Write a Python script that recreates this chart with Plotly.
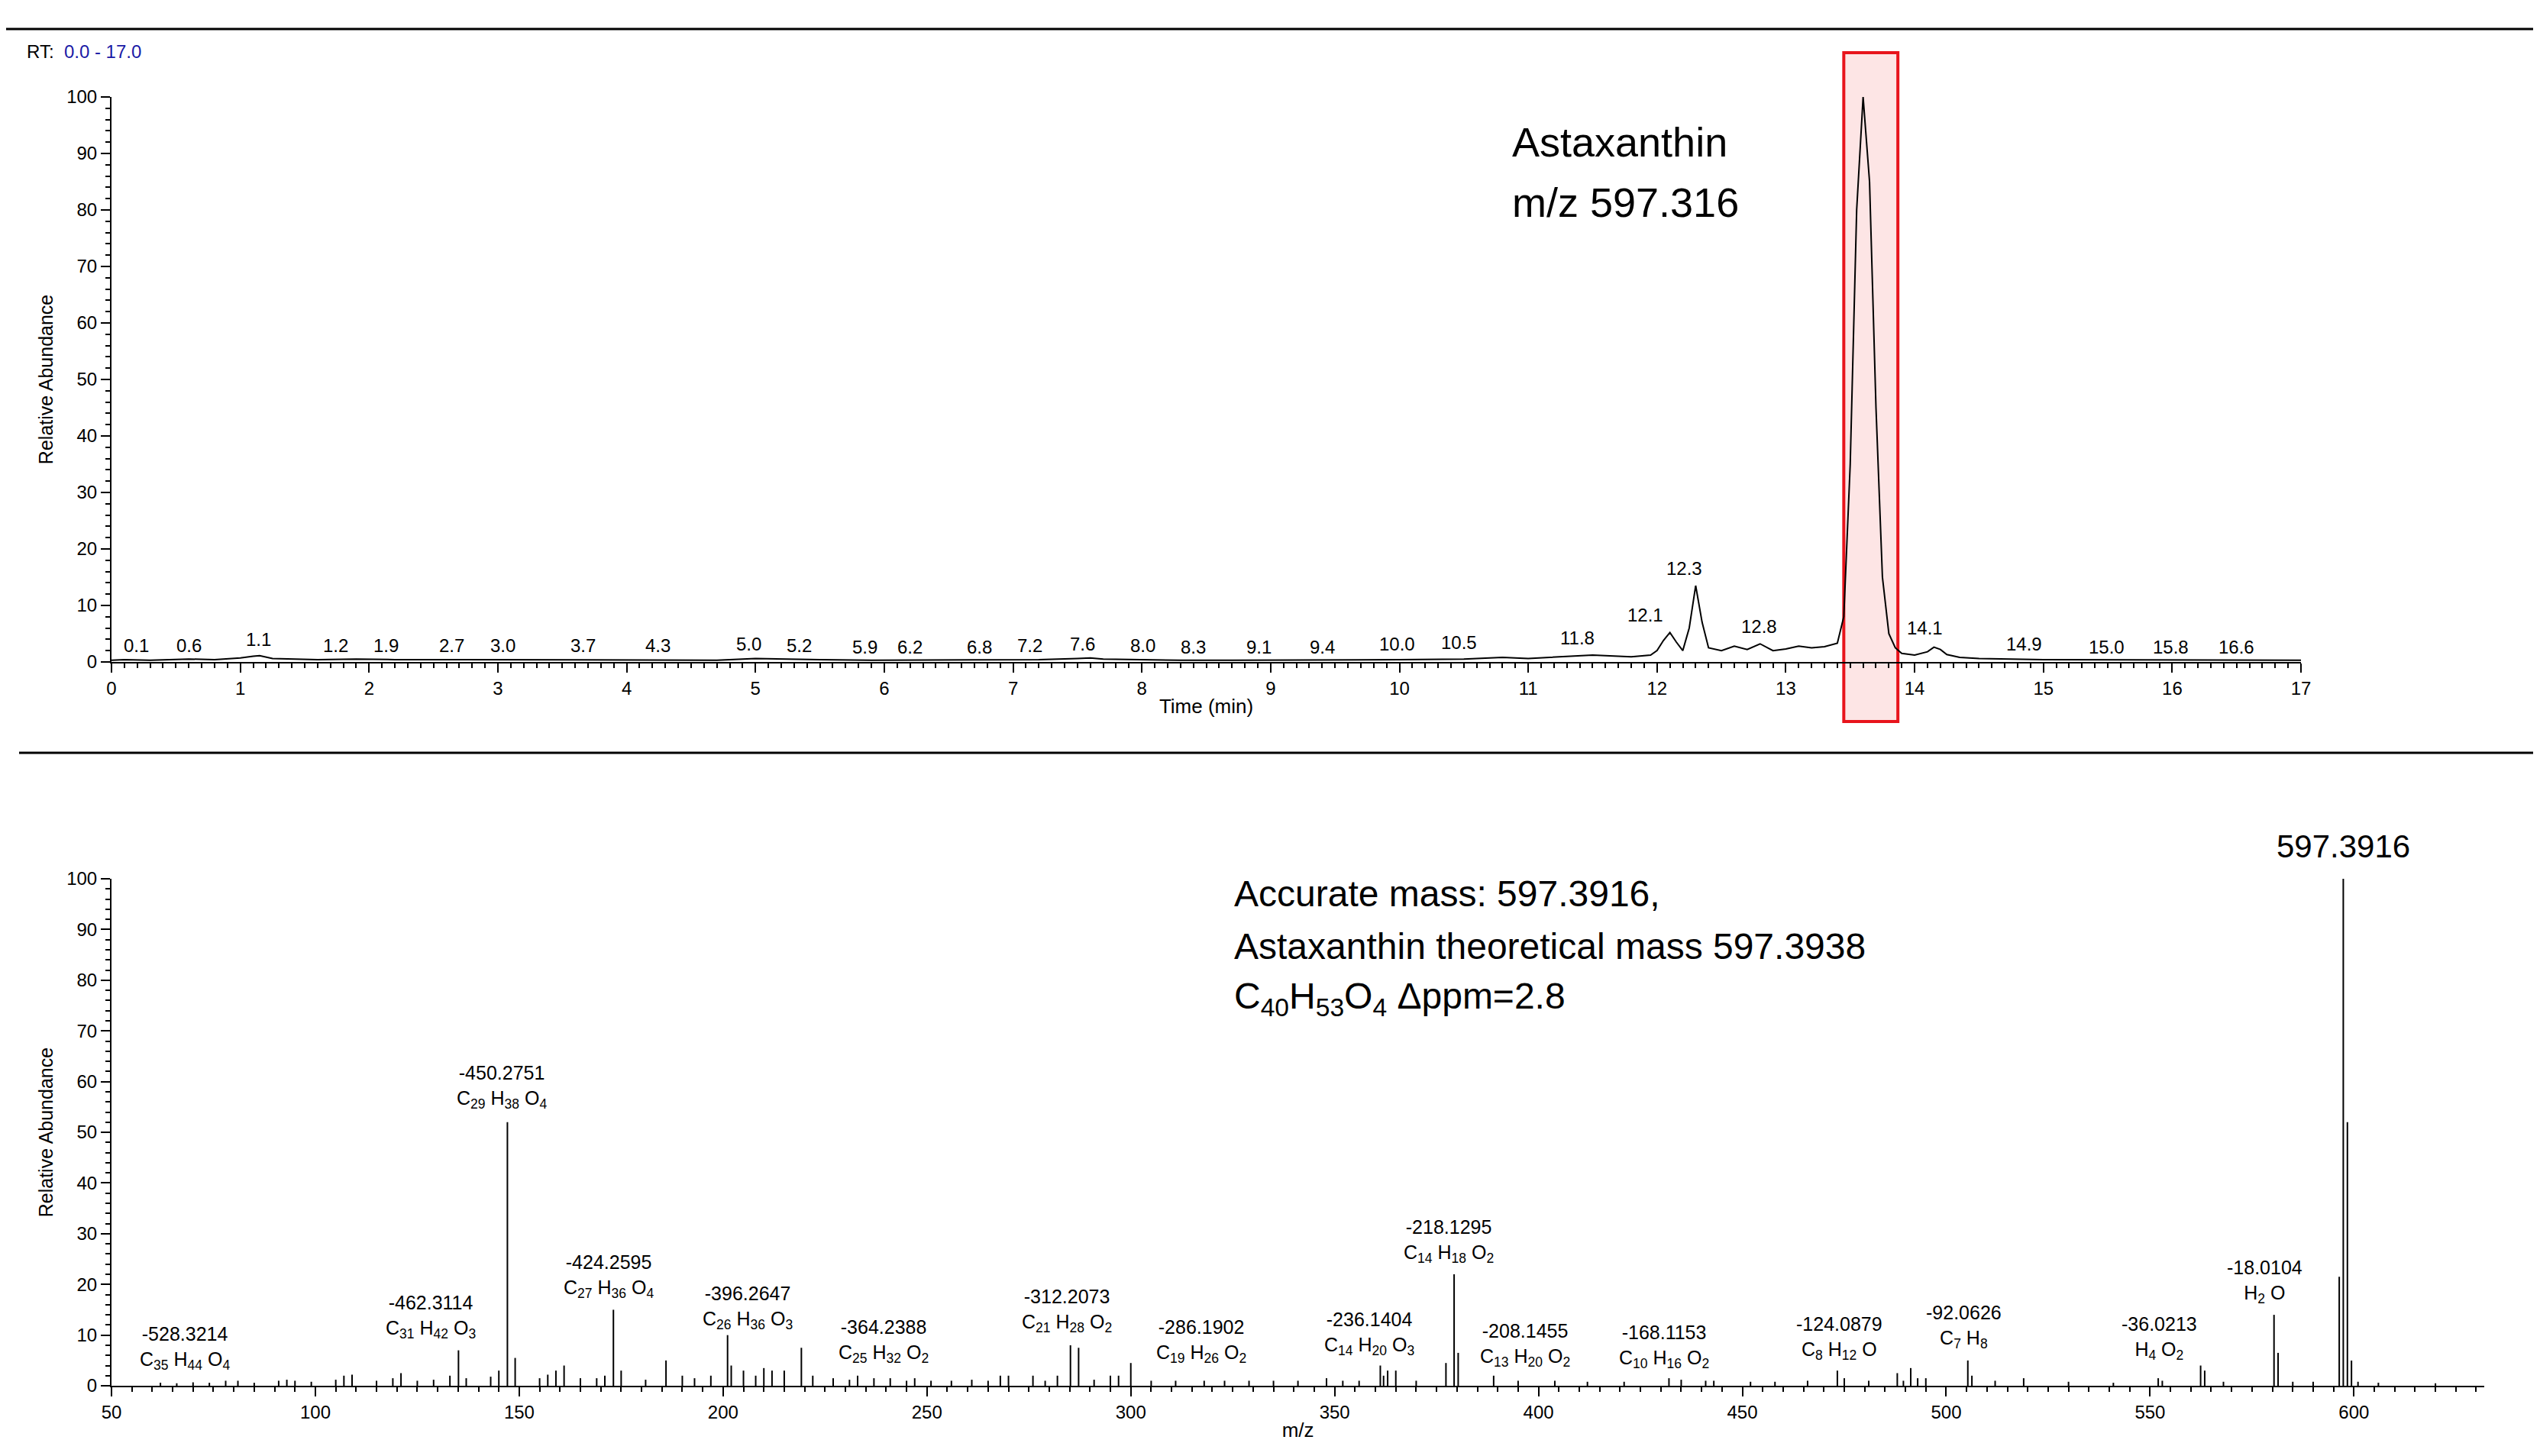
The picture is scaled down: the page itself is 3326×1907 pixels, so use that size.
import plotly.graph_objects as go

# ---- chromatogram data ----
rt_time = [0,0.1,0.3,0.5,0.6,0.8,1.0,1.1,1.15,1.25,1.4,1.6,1.9,2.2,2.7,3.0,3.4,3.7,4.0,4.3,4.7,5.0,5.2,5.5,5.9,6.2,6.5,6.8,7.2,7.5,7.6,7.7,8.0,8.3,8.7,9.1,9.4,9.8,10.0,10.5,10.8,11.0,11.3,11.5,11.8,11.95,12.0,12.05,12.1,12.15,12.2,12.25,12.3,12.35,12.4,12.5,12.6,12.7,12.8,12.85,12.9,13.0,13.1,13.2,13.3,13.4,13.45,13.5,13.55,13.6,13.65,13.7,13.75,13.8,13.85,13.9,14.0,14.1,14.15,14.2,14.25,14.35,14.5,15.0,15.5,16.0,16.5,17.0]
rt_int = [0.3,0.4,0.3,0.4,0.5,0.4,0.7,1.0,1.1,0.6,0.5,0.4,0.5,0.4,0.4,0.4,0.3,0.4,0.3,0.4,0.3,0.6,0.5,0.4,0.3,0.3,0.3,0.4,0.4,0.6,0.7,0.5,0.4,0.3,0.3,0.3,0.3,0.4,0.4,0.5,0.8,0.6,0.9,1.2,0.9,1.2,2.0,3.8,5.2,3.5,2.0,6.0,13.5,7.0,2.5,2.0,2.8,2.2,3.2,2.6,2.0,2.3,2.8,2.5,2.7,3.3,8.0,35.0,80.0,100.0,85.0,45.0,15.0,5.0,2.5,1.5,1.2,1.8,2.6,2.2,1.3,0.8,0.6,0.4,0.4,0.3,0.3,0.3]
rt_label_time = [0.19,0.6,1.14,1.74,2.13,2.64,3.04,3.66,4.24,4.95,5.34,5.85,6.2,6.74,7.13,7.54,8.01,8.4,8.91,9.4,9.98,10.46,11.38,11.91,12.21,12.79,13.57,14.08,14.85,15.49,15.99,16.5]
rt_label_text = ["0.1","0.6","1.1","1.2","1.9","2.7","3.0","3.7","4.3","5.0","5.2","5.9","6.2","6.8","7.2","7.6","8.0","8.3","9.1","9.4","10.0","10.5","11.8","12.1","12.3","12.8","13.6","14.1","14.9","15.0","15.8","16.6"]
rt_label_y = [2.9,2.9,4.0,2.9,2.9,2.9,2.9,2.9,2.9,3.2,2.9,2.6,2.6,2.6,2.9,3.2,2.9,2.6,2.6,2.6,3.2,3.5,4.3,8.3,16.6,6.3,102.9,6.0,3.2,2.6,2.6,2.6]

# ---- spectrum data ----
mz = [62,66,70,74,78,81,85,91,93,95,99,105,107,109,115,119,121,125,129,133,135.1,137,143,145,147.1,149,155,157,159,161,165,169,171,173.1,175,181,186,190,193,197,201.1,202,205,208,210,212,215,219.2,222,227,231,233,237,241,245,247,251,256,261,265,268,270,276,279,282,285.2,287.2,291,295,297,300,305,311,318,323,329,335,341,348,352,356,361.2,362,363,365,370,377.3,379.3,380.3,389,395,404,412,421,432,435,441,443,452,458,466,473.3,475,481,488,489.5,491.3,493,495,505.3,506.3,512,519,530,541,552,553,562.4,563.4,568,580.4,581.4,585,590,596.4,597.39,598.4,599.4,601,606,620]
mz_int = [0.6,0.5,0.7,0.6,1.0,1.0,0.6,1.0,1.2,1.0,0.8,1.2,2.0,2.2,1.0,1.5,2.5,1.0,1.2,2.0,7.0,1.5,1.8,3.0,52.0,5.5,1.5,2.2,3.0,4.0,1.5,1.5,2.0,15.0,3.0,1.2,5.0,2.0,1.5,2.0,10.0,4.0,3.0,2.0,3.5,3.0,3.0,7.5,2.0,1.5,1.2,2.0,1.5,1.5,1.0,1.5,1.0,1.0,1.2,1.0,2.0,2.0,2.0,1.0,2.0,8.0,7.5,1.2,2.0,2.0,4.5,1.0,1.0,1.0,1.0,1.0,1.0,1.0,1.5,1.0,1.0,4.0,2.0,3.0,3.0,1.0,4.5,22.0,6.5,2.0,1.0,1.0,0.8,0.8,1.5,1.2,1.0,1.0,0.8,0.8,1.0,3.0,1.5,1.0,2.5,1.0,3.5,1.5,1.5,5.0,2.0,1.0,1.5,0.8,0.6,1.5,1.0,4.0,3.0,0.8,14.0,6.5,0.8,0.8,21.5,100.0,52.0,5.0,0.8,0.6,0.5]
ms_label_mz = [67.9,128.2,145.7,171.9,206.1,239.4,284.3,317.3,358.5,378.0,396.7,430.8,473.7,504.3,552.3,578.2]
ms_label_y = [7.5,13.6,58.9,21.6,15.5,8.8,14.9,8.8,10.4,28.6,8.1,7.8,9.4,11.7,9.4,20.6]
ms_label_loss = ["-528.3214","-462.3114","-450.2751","-424.2595","-396.2647","-364.2388","-312.2073","-286.1902","-236.1404","-218.1295","-208.1455","-168.1153","-124.0879","-92.0626","-36.0213","-18.0104"]
ms_label_formula = [
    "C<sub>35</sub> H<sub>44</sub> O<sub>4</sub>","C<sub>31</sub> H<sub>42</sub> O<sub>3</sub>",
    "C<sub>29</sub> H<sub>38</sub> O<sub>4</sub>","C<sub>27</sub> H<sub>36</sub> O<sub>4</sub>",
    "C<sub>26</sub> H<sub>36</sub> O<sub>3</sub>","C<sub>25</sub> H<sub>32</sub> O<sub>2</sub>",
    "C<sub>21</sub> H<sub>28</sub> O<sub>2</sub>","C<sub>19</sub> H<sub>26</sub> O<sub>2</sub>",
    "C<sub>14</sub> H<sub>20</sub> O<sub>3</sub>","C<sub>14</sub> H<sub>18</sub> O<sub>2</sub>",
    "C<sub>13</sub> H<sub>20</sub> O<sub>2</sub>","C<sub>10</sub> H<sub>16</sub> O<sub>2</sub>",
    "C<sub>8</sub> H<sub>12</sub> O","C<sub>7</sub> H<sub>8</sub>","H<sub>4</sub> O<sub>2</sub>","H<sub>2</sub> O"]
base_peak_label = "597.3916"

W, H = 3326, 1907
FONT = "Liberation Sans, Arial"

fig = go.Figure()
fig.add_trace(go.Scatter(x=rt_time, y=rt_int, mode="lines", line=dict(color="black", width=2),
                         xaxis="x", yaxis="y", showlegend=False))
sx, sy = [], []
for m, v in zip(mz, mz_int):
    sx += [m, m, None]; sy += [0, v, None]
fig.add_trace(go.Scatter(x=sx, y=sy, mode="lines", line=dict(color="black", width=2),
                         xaxis="x2", yaxis="y2", showlegend=False))

axcommon = dict(showline=True, linecolor="black", linewidth=2, ticks="outside", tickcolor="black",
                ticklen=12, tickwidth=2, showgrid=False, zeroline=False, automargin=False,
                tickfont=dict(family=FONT, size=24, color="black"))
fig.update_layout(
    width=W, height=H, margin=dict(l=0, r=0, t=0, b=0),
    plot_bgcolor="rgba(0,0,0,0)", paper_bgcolor="white",
    xaxis=dict(domain=[0.0415, 0.9035], range=[0, 17], anchor="y", dtick=1,
               minor=dict(dtick=0.1, ticks="outside", ticklen=6, tickcolor="black"),
               title=dict(text="Time (min)", font=dict(family=FONT, size=26, color="black"), standoff=2), **axcommon),
    yaxis=dict(domain=[0.5496, 0.9376], range=[0, 100], anchor="x", dtick=10,
               minor=dict(dtick=2, ticks="outside", ticklen=6, tickcolor="black"),
               title=dict(text="Relative Abundance", font=dict(family=FONT, size=25, color="black"), standoff=10), **axcommon),
    xaxis2=dict(domain=[0.0415, 0.9757], range=[50, 632], anchor="y2", dtick=50,
                minor=dict(dtick=5, ticks="outside", ticklen=6, tickcolor="black"),
                title=dict(text="m/z", font=dict(family=FONT, size=26, color="black"), standoff=2), **axcommon),
    yaxis2=dict(domain=[0.0524, 0.4006], range=[0, 100], anchor="x2", dtick=10,
                minor=dict(dtick=2, ticks="outside", ticklen=6, tickcolor="black"),
                title=dict(text="Relative Abundance", font=dict(family=FONT, size=25, color="black"), standoff=10), **axcommon),
)

ann = []
for t, txt, yv in zip(rt_label_time, rt_label_text, rt_label_y):
    ann.append(dict(x=t, y=yv, xref="x", yref="y", text=txt, showarrow=False,
                    font=dict(family=FONT, size=24, color="black")))
for m, yv, l1, l2 in zip(ms_label_mz, ms_label_y, ms_label_loss, ms_label_formula):
    ann.append(dict(x=m, y=yv, xref="x2", yref="y2", text=l1 + "<br>" + l2, showarrow=False,
                    font=dict(family=FONT, size=25, color="black")))
ann.append(dict(x=597.4, y=1 - 1100/H, xref="x2", yref="paper", text=base_peak_label, showarrow=False,
                xanchor="center", yanchor="middle", font=dict(family=FONT, size=42, color="black")))
ann.append(dict(x=1970/W, y=1-178/H, xref="paper", yref="paper", xanchor="left", yanchor="middle",
                text="Astaxanthin", showarrow=False, font=dict(family=FONT, size=54, color="black")))
ann.append(dict(x=1970/W, y=1-257/H, xref="paper", yref="paper", xanchor="left", yanchor="middle",
                text="m/z 597.316", showarrow=False, font=dict(family=FONT, size=54, color="black")))
for i, line in enumerate(["Accurate mass: 597.3916,", "Astaxanthin theoretical mass 597.3938",
                          "C<sub>40</sub>H<sub>53</sub>O<sub>4</sub> Δppm=2.8"]):
    ann.append(dict(x=1606/W, y=1-(1162+i*69)/H, xref="paper", yref="paper", xanchor="left", yanchor="middle",
                    text=line, showarrow=False, font=dict(family=FONT, size=48, color="black")))
ann.append(dict(x=25/W, y=1-59/H, xref="paper", yref="paper", xanchor="left", yanchor="middle",
                text="RT:  <span style='color:#1a1aa6'>0.0 - 17.0</span>", showarrow=False,
                font=dict(family=FONT, size=24, color="black")))
fig.update_layout(annotations=ann)

fig.add_shape(type="line", xref="paper", yref="paper", x0=0, x1=3309/W, y0=1-30/H, y1=1-30/H,
              line=dict(color="black", width=3))
fig.add_shape(type="line", xref="paper", yref="paper", x0=17/W, x1=3309/W, y0=1-978/H, y1=1-978/H,
              line=dict(color="black", width=3))
fig.add_shape(type="rect", xref="x", yref="paper", x0=13.45, x1=13.87, y0=1-937/H, y1=1-61/H,
              line=dict(color="#e8141c", width=4), fillcolor="rgba(240,80,80,0.15)", layer="below")

fig.write_html("out.html")
